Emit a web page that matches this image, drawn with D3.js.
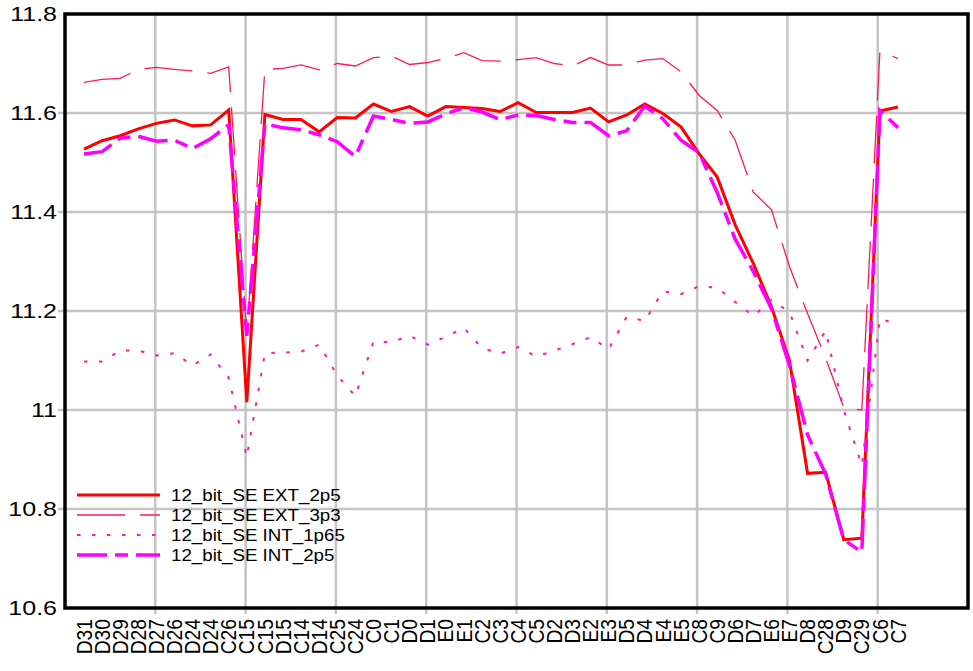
<!DOCTYPE html>
<head>
  <meta charset="utf-8">
  <script src="https://d3js.org/d3.v7.min.js"></script>
  <style>
    body { margin:0; background:#fff; }
    text { font-family: "Liberation Sans", Arial, sans-serif; fill:#000; }
  </style>
</head>
<body>
<script>

  // categories along the x axis
  var labels = ["D31","D30","D29","D28","D27","D26","D24","D24","C26","C15",
    "C15","D15","C14","D14","C25","C24","C0","C1","D0","D1","E0","E1","C2","C3",
    "C4","C5","D2","D3","E2","E3","D5","D4","E4","E5","C8","C9","D6","D7","E6",
    "E7","D8","C28","D9","C29","C6","C7"];

  var seriesNames = ["12_bit_SE EXT_2p5","12_bit_SE EXT_3p3","12_bit_SE INT_1p65","12_bit_SE INT_2p5"];

  var ext2p5 = [11.527,11.544,11.554,11.568,11.579,11.586,11.574,11.576,11.606,11.016,
    11.597,11.587,11.587,11.562,11.591,11.590,11.618,11.603,11.613,11.594,11.613,11.611,
    11.609,11.603,11.621,11.601,11.601,11.601,11.610,11.582,11.596,11.618,11.599,11.572,
    11.518,11.471,11.374,11.296,11.209,11.100,10.872,10.874,10.738,10.741,11.604,11.612];

  var ext3p3 = [11.662,11.668,11.670,11.688,11.692,11.688,11.685,11.680,11.693,11.150,
    11.688,11.690,11.697,11.687,11.700,11.695,11.712,11.715,11.698,11.702,11.710,11.722,
    11.706,11.705,11.708,11.712,11.700,11.695,11.712,11.697,11.697,11.707,11.710,11.683,
    11.636,11.605,11.545,11.440,11.405,11.290,11.195,11.105,11.005,11.000,11.725,11.710];

  var int1p65 = [11.098,11.098,11.120,11.120,11.110,11.115,11.090,11.112,11.065,10.905,
    11.115,11.116,11.118,11.132,11.070,11.028,11.138,11.137,11.150,11.132,11.148,11.166,
    11.125,11.114,11.127,11.108,11.120,11.133,11.147,11.123,11.188,11.180,11.240,11.234,
    11.250,11.247,11.218,11.190,11.222,11.198,11.100,11.160,11.000,10.888,11.185,11.172];

  var int2p5 = [11.517,11.522,11.549,11.553,11.543,11.545,11.528,11.548,11.576,11.150,
    11.578,11.570,11.566,11.556,11.542,11.512,11.594,11.587,11.579,11.582,11.598,11.611,
    11.602,11.587,11.596,11.595,11.587,11.581,11.581,11.554,11.564,11.614,11.588,11.545,
    11.520,11.440,11.345,11.280,11.205,11.090,10.950,10.870,10.738,10.713,11.605,11.570];

  var yTicks = [10.6, 10.8, 11, 11.2, 11.4, 11.6, 11.8];

  var series = [ext2p5, ext3p3, int1p65, int2p5];
  var styles = [
    {color:"#ff0000", width:3,   dash:null},
    {color:"#ff1a55", width:1.3, dash:"48,15"},
    {color:"#ff1aa8", width:2,   dash:"3.5,11.5"},
    {color:"#ff00ff", width:3.5, dash:"30,8,13,8"}
  ];

  var W = 973, H = 671;
  var plotL = 65, plotR = 968, plotT = 14, plotB = 608;

  var svg = d3.select("body").append("svg")
    .attr("width", W)
    .attr("height", H);

  var x = d3.scalePoint().domain(d3.range(labels.length)).range([84, 898]);
  var y = d3.scaleLinear().domain([10.6, 11.8]).range([plotB, plotT]);
  var gx = d3.scaleLinear().domain([0, 10]).range([plotL, plotR]);

  // grid
  svg.selectAll(".hgrid").data(yTicks.slice(1, -1)).enter()
    .append("line")
    .attr("x1", plotL - 7).attr("x2", plotR)
    .attr("y1", function(d) { return y(d); })
    .attr("y2", function(d) { return y(d); })
    .attr("stroke", "#c4c4c4").attr("stroke-width", 2.5);

  svg.selectAll(".vgrid").data(d3.range(1, 10)).enter()
    .append("line")
    .attr("y1", plotT).attr("y2", plotB + 6)
    .attr("x1", function(d) { return gx(d); })
    .attr("x2", function(d) { return gx(d); })
    .attr("stroke", "#c4c4c4").attr("stroke-width", 2.5);

  // y labels
  svg.selectAll(".ylab").data(yTicks).enter()
    .append("text")
    .attr("transform", function(d) { return "translate(57," + y(d) + ") scale(1.25,1)"; })
    .attr("text-anchor", "end")
    .attr("dy", "0.35em")
    .attr("font-size", 20)
    .text(function(d) { return d; });

  // x labels
  svg.selectAll(".xlab").data(labels).enter()
    .append("text")
    .attr("transform", function(d, i) { return "translate(" + x(i) + ",619) rotate(-90) scale(1.04,1.15)"; })
    .attr("text-anchor", "end")
    .attr("dy", "0.36em")
    .attr("font-size", 18.5)
    .text(function(d) { return d; });

  var line = d3.line()
    .x(function(d, i) { return x(i); })
    .y(function(d) { return y(d); });

  series.forEach(function(s, k) {
    svg.append("path")
      .attr("d", line(s))
      .attr("fill", "none")
      .attr("stroke", styles[k].color)
      .attr("stroke-width", styles[k].width)
      .attr("stroke-dasharray", styles[k].dash)
      .attr("stroke-linejoin", "miter");
  });

  // frame
  svg.append("rect")
    .attr("x", plotL).attr("y", plotT)
    .attr("width", plotR - plotL).attr("height", plotB - plotT)
    .attr("fill", "none").attr("stroke", "#000").attr("stroke-width", 3.5);

  // legend
  var legend = svg.selectAll(".legend").data(seriesNames).enter()
    .append("g")
    .attr("transform", function(d, i) { return "translate(0," + (495 + i * 20) + ")"; });

  legend.append("line")
    .attr("x1", 77).attr("x2", 160)
    .attr("stroke", function(d, i) { return styles[i].color; })
    .attr("stroke-width", function(d, i) { return styles[i].width; })
    .attr("stroke-dasharray", function(d, i) { return styles[i].dash; });

  legend.append("text")
    .attr("x", 171)
    .attr("dy", "0.36em")
    .attr("font-size", 16)
    .text(function(d) { return d; })
    .each(function() {
      var w = this.getComputedTextLength();
      d3.select(this).attr("textLength", w * 1.17).attr("lengthAdjust", "spacingAndGlyphs");
    });

</script>
</body>
